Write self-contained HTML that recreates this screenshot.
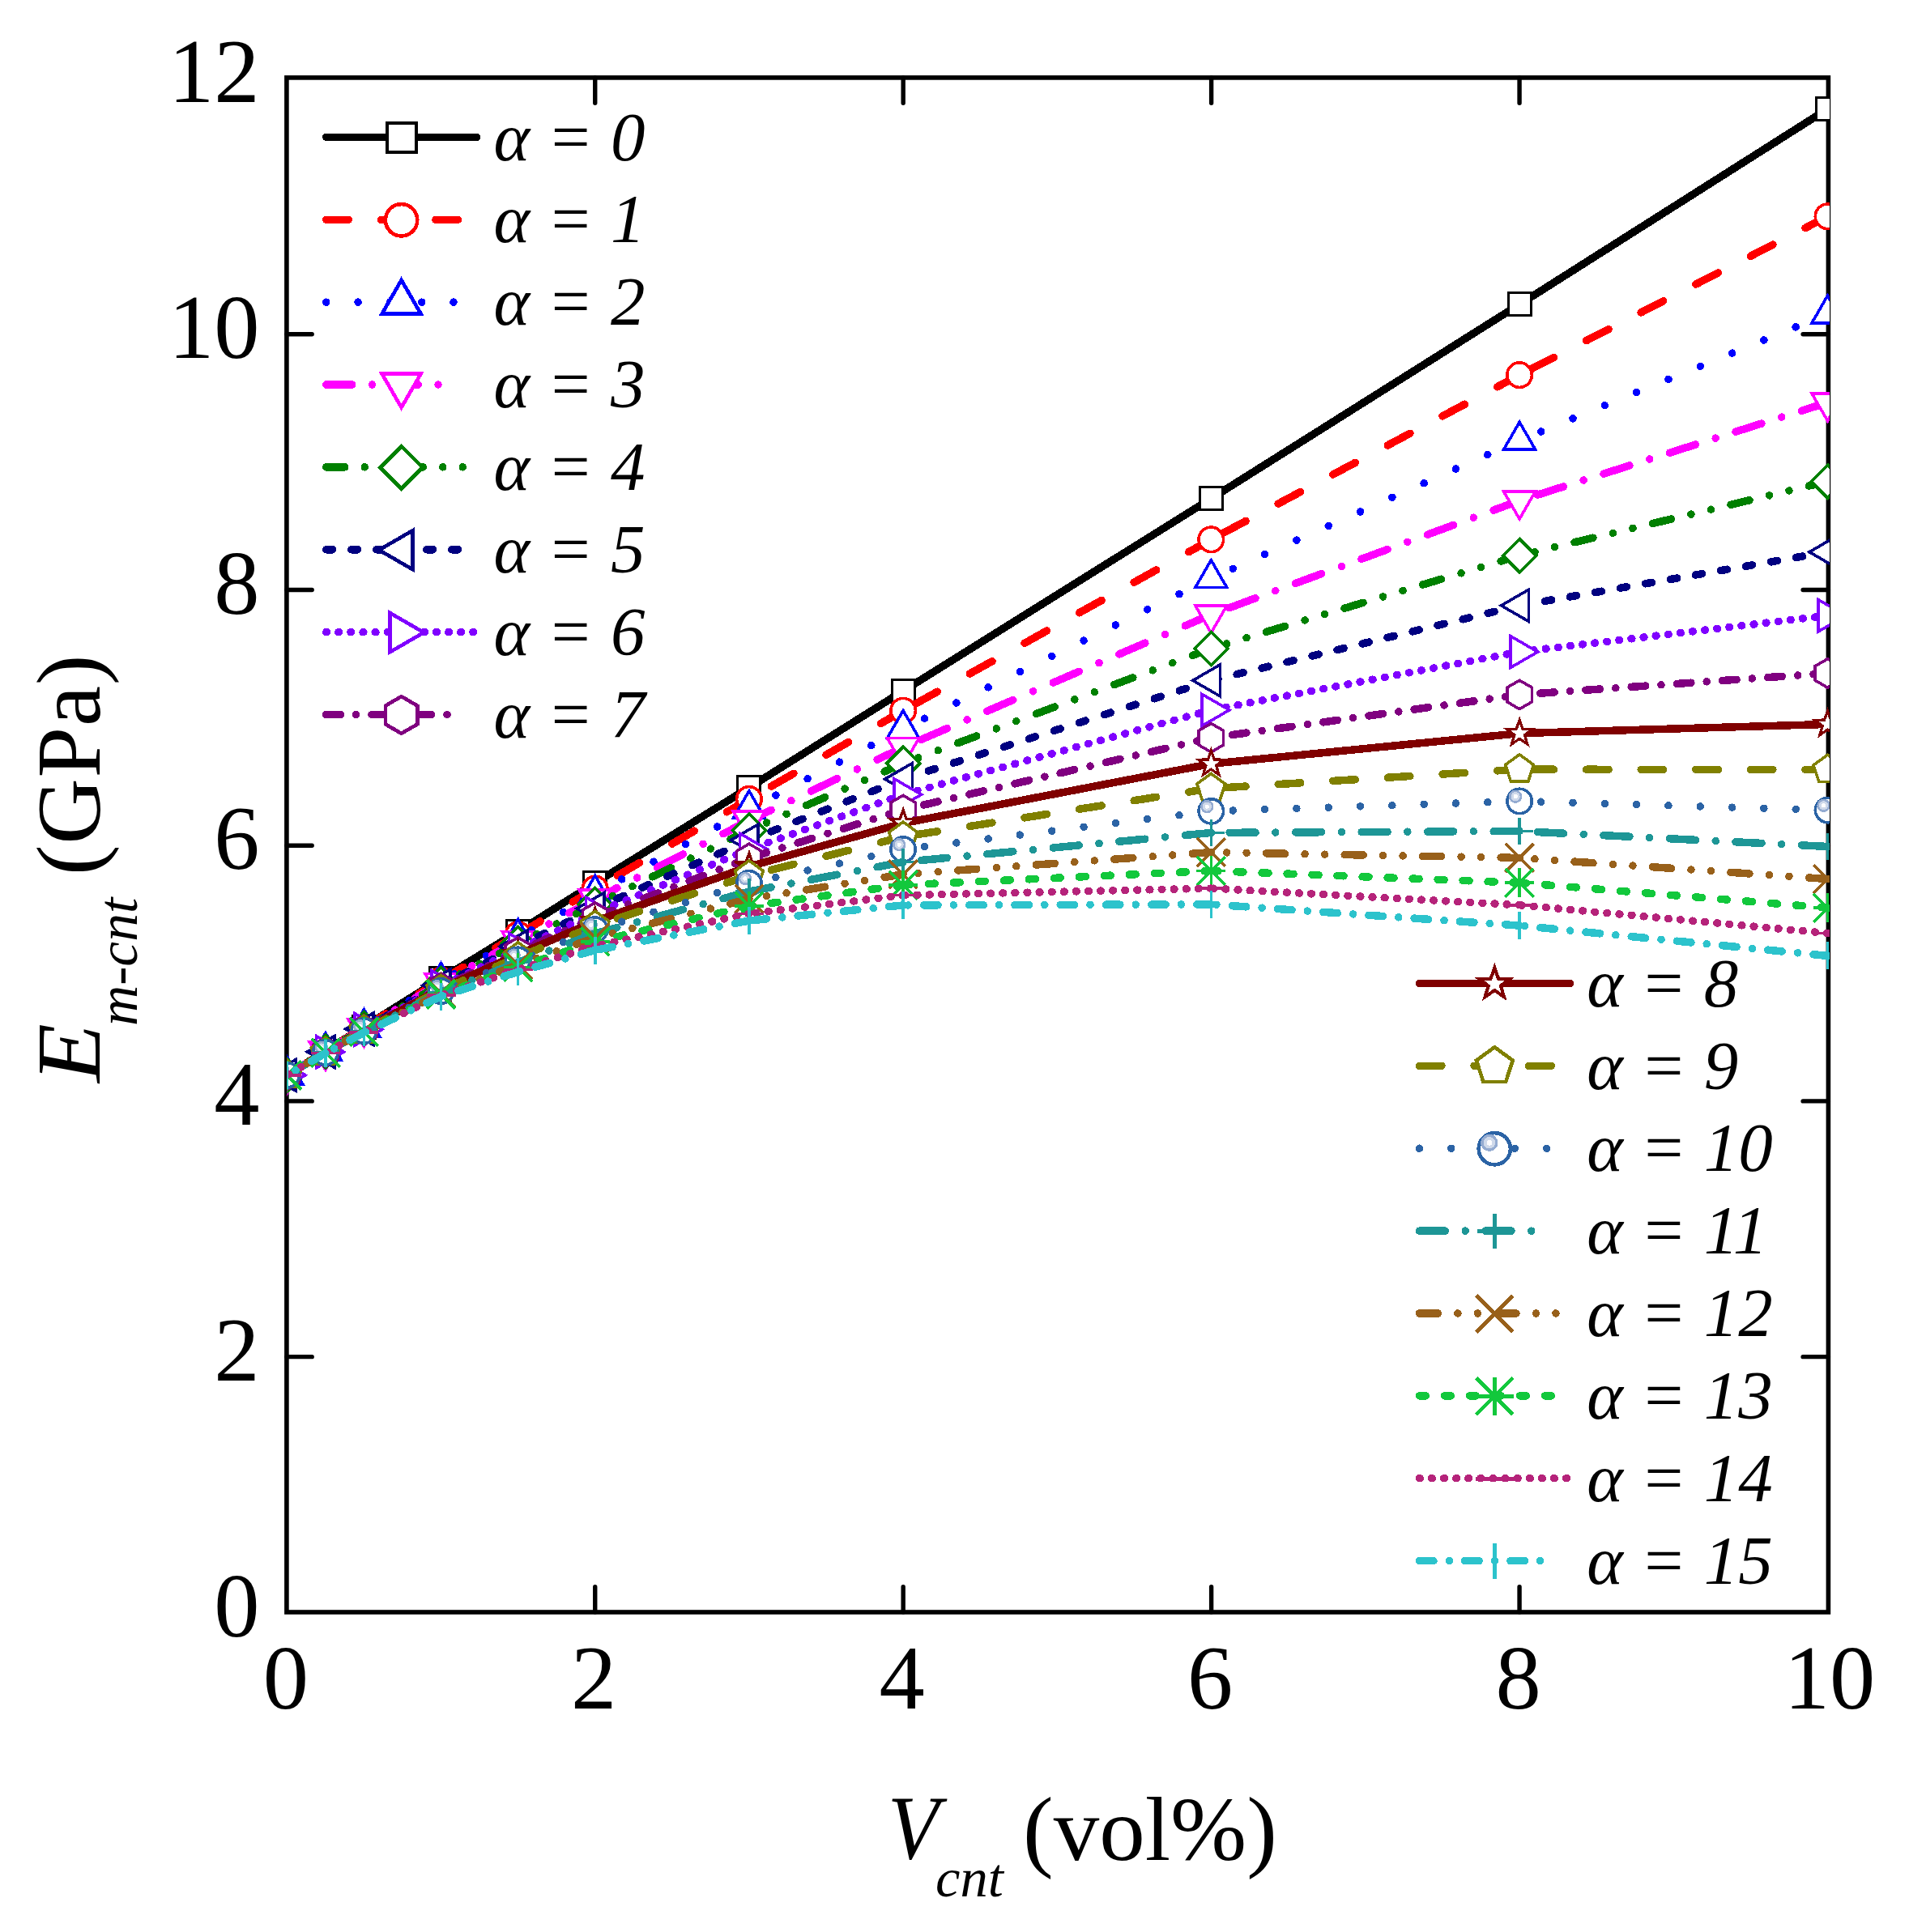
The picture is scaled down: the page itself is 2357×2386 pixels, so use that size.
<!DOCTYPE html>
<html lang="en"><head><meta charset="utf-8"><title>E m-cnt vs V cnt</title>
<style>
html,body{margin:0;padding:0;background:#fff}
svg{display:block}
text{font-family:"Liberation Serif",serif;fill:#000}
.tk{font-size:112.5px}
.lg{font-size:85px;font-style:italic}
.it{font-style:italic}
</style></head>
<body>
<svg width="2357" height="2386" viewBox="0 0 2357 2386">
<rect width="2357" height="2386" fill="#fff"/>
<defs><clipPath id="pc"><rect x="354.4" y="95.9" width="1904.6" height="1895.1"/></clipPath></defs>
<rect x="353.9" y="95.9" width="1903.5" height="1895.1" fill="none" stroke="#000" stroke-width="5.6"/>
<path d="M734.74 1991V1959.7 M734.74 95.9V127.2 M1115.18 1991V1959.7 M1115.18 95.9V127.2 M1495.62 1991V1959.7 M1495.62 95.9V127.2 M1876.06 1991V1959.7 M1876.06 95.9V127.2 M353.9 1675.66H385.2 M2257.4 1675.66H2226.1 M353.9 1359.92H385.2 M2257.4 1359.92H2226.1 M353.9 1044.18H385.2 M2257.4 1044.18H2226.1 M353.9 728.44H385.2 M2257.4 728.44H2226.1 M353.9 412.7H385.2 M2257.4 412.7H2226.1" fill="none" stroke="#000" stroke-width="5.4" stroke-linecap="round"/>
<text class="tk" x="320.5" y="2020.6" text-anchor="end">0</text>
<text class="tk" x="320.5" y="1704.86" text-anchor="end">2</text>
<text class="tk" x="320.5" y="1389.12" text-anchor="end">4</text>
<text class="tk" x="320.5" y="1073.38" text-anchor="end">6</text>
<text class="tk" x="320.5" y="757.64" text-anchor="end">8</text>
<text class="tk" x="320.5" y="441.9" text-anchor="end">10</text>
<text class="tk" x="320.5" y="126.16" text-anchor="end">12</text>
<text class="tk" x="352.8" y="2109.6" text-anchor="middle">0</text>
<text class="tk" x="733.24" y="2109.6" text-anchor="middle">2</text>
<text class="tk" x="1113.68" y="2109.6" text-anchor="middle">4</text>
<text class="tk" x="1494.12" y="2109.6" text-anchor="middle">6</text>
<text class="tk" x="1874.56" y="2109.6" text-anchor="middle">8</text>
<text class="tk" x="2259" y="2109.6" text-anchor="middle">10</text>
<text x="1096" y="2295" font-size="113" class="it" textLength="63.5" lengthAdjust="spacingAndGlyphs">V</text>
<text x="1155" y="2341.5" font-size="68.5" class="it">cnt</text>
<text x="1263" y="2296.5" font-size="113">(vol%)</text>
<g transform="translate(123 1337) rotate(-90)"><text x="0" y="0" font-size="113" class="it" textLength="73" lengthAdjust="spacingAndGlyphs">E</text><text x="70" y="46" font-size="69.5" class="it">m-cnt</text><text x="256" y="0" font-size="113" letter-spacing="0.6">(GPa)</text></g>
<g clip-path="url(#pc)" shape-rendering="crispEdges">
<path d="M354.3 1327.8 L401.9 1298 L449.4 1268.2 L544.5 1208.9 L639.6 1150.5 L734.7 1090.51 L924.9 972.71 L1115.1 853.33 L1495.3 615.76 L1876.1 375.92 L2256.5 134.6" fill="none" stroke="#000000" stroke-width="9.5" stroke-linejoin="round" stroke-linecap="round"/>
<g><rect x="340.3" y="1313.8" width="28" height="28" fill="#fff" stroke="#000000" stroke-width="3"/><rect x="387.9" y="1284" width="28" height="28" fill="#fff" stroke="#000000" stroke-width="3"/><rect x="435.4" y="1254.2" width="28" height="28" fill="#fff" stroke="#000000" stroke-width="3"/><rect x="530.5" y="1194.9" width="28" height="28" fill="#fff" stroke="#000000" stroke-width="3"/><rect x="625.6" y="1136.5" width="28" height="28" fill="#fff" stroke="#000000" stroke-width="3"/><rect x="720.7" y="1076.51" width="28" height="28" fill="#fff" stroke="#000000" stroke-width="3"/><rect x="910.9" y="958.71" width="28" height="28" fill="#fff" stroke="#000000" stroke-width="3"/><rect x="1101.1" y="839.33" width="28" height="28" fill="#fff" stroke="#000000" stroke-width="3"/><rect x="1481.3" y="601.76" width="28" height="28" fill="#fff" stroke="#000000" stroke-width="3"/><rect x="1862.1" y="361.92" width="28" height="28" fill="#fff" stroke="#000000" stroke-width="3"/><rect x="2242.5" y="120.6" width="28" height="28" fill="#fff" stroke="#000000" stroke-width="3"/></g>
<g fill="none" stroke="#ff0000" stroke-width="9.5" stroke-linecap="round"><path d="M2256.5 267.37L1876.1 463.14" stroke-dasharray="30.93 45.1"/><path d="M1876.1 463.14L1495.3 666.33" stroke-dasharray="31.17 45.45"/><path d="M1495.3 666.33L1115.1 877.67" stroke-dasharray="31.46 45.88"/><path d="M1115.1 877.67L924.9 986.82" stroke-dasharray="31.71 46.23"/><path d="M924.9 986.82L734.7 1097.47" stroke-dasharray="31.81 46.39"/><path d="M734.7 1097.47L639.6 1154.28" stroke-dasharray="32.03 46.71"/><path d="M639.6 1154.28L544.5 1210.54" stroke-dasharray="31.95 46.59"/><path d="M544.5 1210.54L449.4 1268.73" stroke-dasharray="32.24 47.01"/><path d="M449.4 1268.73L401.9 1298.2" stroke-dasharray="32.36 47.19"/><path d="M401.9 1298.2L354.3 1327.8" stroke-dasharray="32.38 47.22"/></g>
<g><circle cx="354.3" cy="1327.8" r="15.25" fill="#fff" stroke="#ff0000" stroke-width="3.6" stroke-linejoin="miter"/><circle cx="401.9" cy="1298.2" r="15.25" fill="#fff" stroke="#ff0000" stroke-width="3.6" stroke-linejoin="miter"/><circle cx="449.4" cy="1268.73" r="15.25" fill="#fff" stroke="#ff0000" stroke-width="3.6" stroke-linejoin="miter"/><circle cx="544.5" cy="1210.54" r="15.25" fill="#fff" stroke="#ff0000" stroke-width="3.6" stroke-linejoin="miter"/><circle cx="639.6" cy="1154.28" r="15.25" fill="#fff" stroke="#ff0000" stroke-width="3.6" stroke-linejoin="miter"/><circle cx="734.7" cy="1097.47" r="15.25" fill="#fff" stroke="#ff0000" stroke-width="3.6" stroke-linejoin="miter"/><circle cx="924.9" cy="986.82" r="15.25" fill="#fff" stroke="#ff0000" stroke-width="3.6" stroke-linejoin="miter"/><circle cx="1115.1" cy="877.67" r="15.25" fill="#fff" stroke="#ff0000" stroke-width="3.6" stroke-linejoin="miter"/><circle cx="1495.3" cy="666.33" r="15.25" fill="#fff" stroke="#ff0000" stroke-width="3.6" stroke-linejoin="miter"/><circle cx="1876.1" cy="463.14" r="15.25" fill="#fff" stroke="#ff0000" stroke-width="3.6" stroke-linejoin="miter"/><circle cx="2256.5" cy="267.37" r="15.25" fill="#fff" stroke="#ff0000" stroke-width="3.6" stroke-linejoin="miter"/></g>
<g fill="none" stroke="#0000ff" stroke-width="9.5" stroke-linecap="round"><path d="M2256.5 387.75L1876.1 543.93" stroke-dasharray="0.01 42.48"/><path d="M1876.1 543.93L1495.3 714.36" stroke-dasharray="0.01 43.06"/><path d="M1495.3 714.36L1115.1 900.11" stroke-dasharray="0.01 43.74"/><path d="M1115.1 900.11L924.9 999.36" stroke-dasharray="0.01 44.33"/><path d="M924.9 999.36L734.7 1103.98" stroke-dasharray="0.01 44.85"/><path d="M734.7 1103.98L639.6 1158" stroke-dasharray="0.01 45.2"/><path d="M639.6 1158L544.5 1212.15" stroke-dasharray="0.01 45.22"/><path d="M544.5 1212.15L449.4 1269.25" stroke-dasharray="0.01 45.84"/><path d="M449.4 1269.25L401.9 1298.39" stroke-dasharray="0.01 46.1"/><path d="M401.9 1298.39L354.3 1327.8" stroke-dasharray="0.01 46.2"/></g>
<g><path d="M354.3 1305.2 L373.87 1339.1 L334.73 1339.1Z" fill="#fff" stroke="#0000ff" stroke-width="3.6" stroke-linejoin="miter"/><path d="M401.9 1275.79 L421.47 1309.69 L382.33 1309.69Z" fill="#fff" stroke="#0000ff" stroke-width="3.6" stroke-linejoin="miter"/><path d="M449.4 1246.65 L468.97 1280.55 L429.83 1280.55Z" fill="#fff" stroke="#0000ff" stroke-width="3.6" stroke-linejoin="miter"/><path d="M544.5 1189.55 L564.07 1223.45 L524.93 1223.45Z" fill="#fff" stroke="#0000ff" stroke-width="3.6" stroke-linejoin="miter"/><path d="M639.6 1135.4 L659.17 1169.3 L620.03 1169.3Z" fill="#fff" stroke="#0000ff" stroke-width="3.6" stroke-linejoin="miter"/><path d="M734.7 1081.38 L754.27 1115.28 L715.13 1115.28Z" fill="#fff" stroke="#0000ff" stroke-width="3.6" stroke-linejoin="miter"/><path d="M924.9 976.76 L944.47 1010.66 L905.33 1010.66Z" fill="#fff" stroke="#0000ff" stroke-width="3.6" stroke-linejoin="miter"/><path d="M1115.1 877.51 L1134.67 911.41 L1095.53 911.41Z" fill="#fff" stroke="#0000ff" stroke-width="3.6" stroke-linejoin="miter"/><path d="M1495.3 691.76 L1514.87 725.66 L1475.73 725.66Z" fill="#fff" stroke="#0000ff" stroke-width="3.6" stroke-linejoin="miter"/><path d="M1876.1 521.33 L1895.67 555.23 L1856.53 555.23Z" fill="#fff" stroke="#0000ff" stroke-width="3.6" stroke-linejoin="miter"/><path d="M2256.5 365.15 L2276.07 399.05 L2236.93 399.05Z" fill="#fff" stroke="#0000ff" stroke-width="3.6" stroke-linejoin="miter"/></g>
<g fill="none" stroke="#ff00ff" stroke-width="9.5" stroke-linecap="round"><path d="M2256.5 497.07L1876.1 618.26" stroke-dasharray="33.58 25.98 0.01 25.98"/><path d="M1876.1 618.26L1495.3 759" stroke-dasharray="34.12 26.39 0.01 26.39"/><path d="M1495.3 759L1115.1 922.98" stroke-dasharray="34.85 26.95 0.01 26.95"/><path d="M1115.1 922.98L924.9 1013.39" stroke-dasharray="35.43 27.4 0.01 27.4"/><path d="M924.9 1013.39L734.7 1110.47" stroke-dasharray="35.93 27.79 0.01 27.79"/><path d="M734.7 1110.47L639.6 1161.66" stroke-dasharray="36.34 28.11 0.01 28.11"/><path d="M639.6 1161.66L544.5 1213.74" stroke-dasharray="36.48 28.22 0.01 28.22"/><path d="M544.5 1213.74L449.4 1269.77" stroke-dasharray="37.14 28.73 0.01 28.73"/><path d="M449.4 1269.77L401.9 1298.58" stroke-dasharray="37.43 28.95 0.01 28.95"/><path d="M401.9 1298.58L354.3 1327.8" stroke-dasharray="37.55 29.04 0.01 29.04"/></g>
<g><path d="M354.3 1350.4 L334.73 1316.5 L373.87 1316.5Z" fill="#fff" stroke="#ff00ff" stroke-width="3.6" stroke-linejoin="miter"/><path d="M401.9 1321.18 L382.33 1287.28 L421.47 1287.28Z" fill="#fff" stroke="#ff00ff" stroke-width="3.6" stroke-linejoin="miter"/><path d="M449.4 1292.37 L429.83 1258.47 L468.97 1258.47Z" fill="#fff" stroke="#ff00ff" stroke-width="3.6" stroke-linejoin="miter"/><path d="M544.5 1236.34 L524.93 1202.44 L564.07 1202.44Z" fill="#fff" stroke="#ff00ff" stroke-width="3.6" stroke-linejoin="miter"/><path d="M639.6 1184.26 L620.03 1150.36 L659.17 1150.36Z" fill="#fff" stroke="#ff00ff" stroke-width="3.6" stroke-linejoin="miter"/><path d="M734.7 1133.07 L715.13 1099.17 L754.27 1099.17Z" fill="#fff" stroke="#ff00ff" stroke-width="3.6" stroke-linejoin="miter"/><path d="M924.9 1035.99 L905.33 1002.09 L944.47 1002.09Z" fill="#fff" stroke="#ff00ff" stroke-width="3.6" stroke-linejoin="miter"/><path d="M1115.1 945.58 L1095.53 911.68 L1134.67 911.68Z" fill="#fff" stroke="#ff00ff" stroke-width="3.6" stroke-linejoin="miter"/><path d="M1495.3 781.6 L1475.73 747.7 L1514.87 747.7Z" fill="#fff" stroke="#ff00ff" stroke-width="3.6" stroke-linejoin="miter"/><path d="M1876.1 640.86 L1856.53 606.96 L1895.67 606.96Z" fill="#fff" stroke="#ff00ff" stroke-width="3.6" stroke-linejoin="miter"/><path d="M2256.5 519.67 L2236.93 485.77 L2276.07 485.77Z" fill="#fff" stroke="#ff00ff" stroke-width="3.6" stroke-linejoin="miter"/></g>
<g fill="none" stroke="#008000" stroke-width="9.5" stroke-linecap="round"><path d="M2256.5 594.55L1876.1 686.08" stroke-dasharray="23.66 25.2 0.01 25.2 0.01 25.2"/><path d="M1876.1 686.08L1495.3 800.9" stroke-dasharray="24.02 25.59 0.01 25.59 0.01 25.59"/><path d="M1495.3 800.9L1115.1 942.87" stroke-dasharray="24.55 26.15 0.01 26.15 0.01 26.15"/><path d="M1115.1 942.87L924.9 1025.36" stroke-dasharray="25.07 26.71 0.01 26.71 0.01 26.71"/><path d="M924.9 1025.36L734.7 1116.77" stroke-dasharray="25.52 27.18 0.01 27.18 0.01 27.18"/><path d="M734.7 1116.77L639.6 1165.24" stroke-dasharray="25.82 27.5 0.01 27.5 0.01 27.5"/><path d="M639.6 1165.24L544.5 1215.29" stroke-dasharray="25.99 27.69 0.01 27.69 0.01 27.69"/><path d="M544.5 1215.29L449.4 1270.27" stroke-dasharray="26.57 28.3 0.01 28.3 0.01 28.3"/><path d="M449.4 1270.27L401.9 1298.77" stroke-dasharray="26.82 28.57 0.01 28.57 0.01 28.57"/><path d="M401.9 1298.77L354.3 1327.8" stroke-dasharray="26.94 28.7 0.01 28.7 0.01 28.7"/></g>
<g><path d="M354.3 1307.3 L374.8 1327.8 L354.3 1348.3 L333.8 1327.8Z" fill="#fff" stroke="#008000" stroke-width="3.6" stroke-linejoin="miter"/><path d="M401.9 1278.27 L422.4 1298.77 L401.9 1319.27 L381.4 1298.77Z" fill="#fff" stroke="#008000" stroke-width="3.6" stroke-linejoin="miter"/><path d="M449.4 1249.77 L469.9 1270.27 L449.4 1290.77 L428.9 1270.27Z" fill="#fff" stroke="#008000" stroke-width="3.6" stroke-linejoin="miter"/><path d="M544.5 1194.79 L565 1215.29 L544.5 1235.79 L524 1215.29Z" fill="#fff" stroke="#008000" stroke-width="3.6" stroke-linejoin="miter"/><path d="M639.6 1144.74 L660.1 1165.24 L639.6 1185.74 L619.1 1165.24Z" fill="#fff" stroke="#008000" stroke-width="3.6" stroke-linejoin="miter"/><path d="M734.7 1096.27 L755.2 1116.77 L734.7 1137.27 L714.2 1116.77Z" fill="#fff" stroke="#008000" stroke-width="3.6" stroke-linejoin="miter"/><path d="M924.9 1004.86 L945.4 1025.36 L924.9 1045.86 L904.4 1025.36Z" fill="#fff" stroke="#008000" stroke-width="3.6" stroke-linejoin="miter"/><path d="M1115.1 922.37 L1135.6 942.87 L1115.1 963.37 L1094.6 942.87Z" fill="#fff" stroke="#008000" stroke-width="3.6" stroke-linejoin="miter"/><path d="M1495.3 780.4 L1515.8 800.9 L1495.3 821.4 L1474.8 800.9Z" fill="#fff" stroke="#008000" stroke-width="3.6" stroke-linejoin="miter"/><path d="M1876.1 665.58 L1896.6 686.08 L1876.1 706.58 L1855.6 686.08Z" fill="#fff" stroke="#008000" stroke-width="3.6" stroke-linejoin="miter"/><path d="M2256.5 574.05 L2277 594.55 L2256.5 615.05 L2236 594.55Z" fill="#fff" stroke="#008000" stroke-width="3.6" stroke-linejoin="miter"/></g>
<g fill="none" stroke="#000080" stroke-width="9.5" stroke-linecap="round"><path d="M2256.5 681.71L1876.1 747.82" stroke-dasharray="8.12 23.34"/><path d="M1876.1 747.82L1495.3 840.37" stroke-dasharray="8.23 23.67"/><path d="M1495.3 840.37L1115.1 962.15" stroke-dasharray="8.4 24.15"/><path d="M1115.1 962.15L924.9 1037.61" stroke-dasharray="8.61 24.74"/><path d="M924.9 1037.61L734.7 1122.03" stroke-dasharray="8.75 25.16"/><path d="M734.7 1122.03L639.6 1168.76" stroke-dasharray="8.91 25.63"/><path d="M639.6 1168.76L544.5 1216.82" stroke-dasharray="8.96 25.77"/><path d="M544.5 1216.82L449.4 1270.77" stroke-dasharray="9.2 26.44"/><path d="M449.4 1270.77L401.9 1298.95" stroke-dasharray="9.3 26.74"/><path d="M401.9 1298.95L354.3 1327.8" stroke-dasharray="9.35 26.89"/></g>
<g><path d="M331.7 1327.8 L365.6 1308.23 L365.6 1347.37Z" fill="#fff" stroke="#000080" stroke-width="3.6" stroke-linejoin="miter"/><path d="M379.3 1298.95 L413.2 1279.38 L413.2 1318.53Z" fill="#fff" stroke="#000080" stroke-width="3.6" stroke-linejoin="miter"/><path d="M426.8 1270.77 L460.7 1251.19 L460.7 1290.34Z" fill="#fff" stroke="#000080" stroke-width="3.6" stroke-linejoin="miter"/><path d="M521.9 1216.82 L555.8 1197.25 L555.8 1236.39Z" fill="#fff" stroke="#000080" stroke-width="3.6" stroke-linejoin="miter"/><path d="M617 1168.76 L650.9 1149.19 L650.9 1188.33Z" fill="#fff" stroke="#000080" stroke-width="3.6" stroke-linejoin="miter"/><path d="M712.1 1122.03 L746 1102.45 L746 1141.6Z" fill="#fff" stroke="#000080" stroke-width="3.6" stroke-linejoin="miter"/><path d="M902.3 1037.61 L936.2 1018.04 L936.2 1057.18Z" fill="#fff" stroke="#000080" stroke-width="3.6" stroke-linejoin="miter"/><path d="M1092.5 962.15 L1126.4 942.57 L1126.4 981.72Z" fill="#fff" stroke="#000080" stroke-width="3.6" stroke-linejoin="miter"/><path d="M1472.7 840.37 L1506.6 820.8 L1506.6 859.94Z" fill="#fff" stroke="#000080" stroke-width="3.6" stroke-linejoin="miter"/><path d="M1853.5 747.82 L1887.4 728.25 L1887.4 767.4Z" fill="#fff" stroke="#000080" stroke-width="3.6" stroke-linejoin="miter"/><path d="M2233.9 681.71 L2267.8 662.14 L2267.8 701.28Z" fill="#fff" stroke="#000080" stroke-width="3.6" stroke-linejoin="miter"/></g>
<g fill="none" stroke="#8000ff" stroke-width="9.5" stroke-linecap="round"><path d="M2256.5 760.25L1876.1 805.05" stroke-dasharray="0.81 14.4"/><path d="M1876.1 805.05L1495.3 876.87" stroke-dasharray="0.81 14.55"/><path d="M1495.3 876.87L1115.1 981.27" stroke-dasharray="0.83 14.83"/><path d="M1115.1 981.27L924.9 1048.99" stroke-dasharray="0.85 15.18"/><path d="M924.9 1048.99L734.7 1127.63" stroke-dasharray="0.87 15.47"/><path d="M734.7 1127.63L639.6 1172.21" stroke-dasharray="0.88 15.79"/><path d="M639.6 1172.21L544.5 1218.32" stroke-dasharray="0.89 15.89"/><path d="M544.5 1218.32L449.4 1271.25" stroke-dasharray="0.92 16.37"/><path d="M449.4 1271.25L401.9 1299.13" stroke-dasharray="0.93 16.58"/><path d="M401.9 1299.13L354.3 1327.8" stroke-dasharray="0.93 16.69"/></g>
<g><path d="M376.9 1327.8 L343 1347.37 L343 1308.23Z" fill="#fff" stroke="#8000ff" stroke-width="3.6" stroke-linejoin="miter"/><path d="M424.5 1299.13 L390.6 1318.71 L390.6 1279.56Z" fill="#fff" stroke="#8000ff" stroke-width="3.6" stroke-linejoin="miter"/><path d="M472 1271.25 L438.1 1290.82 L438.1 1251.68Z" fill="#fff" stroke="#8000ff" stroke-width="3.6" stroke-linejoin="miter"/><path d="M567.1 1218.32 L533.2 1237.89 L533.2 1198.75Z" fill="#fff" stroke="#8000ff" stroke-width="3.6" stroke-linejoin="miter"/><path d="M662.2 1172.21 L628.3 1191.78 L628.3 1152.64Z" fill="#fff" stroke="#8000ff" stroke-width="3.6" stroke-linejoin="miter"/><path d="M757.3 1127.63 L723.4 1147.2 L723.4 1108.06Z" fill="#fff" stroke="#8000ff" stroke-width="3.6" stroke-linejoin="miter"/><path d="M947.5 1048.99 L913.6 1068.57 L913.6 1029.42Z" fill="#fff" stroke="#8000ff" stroke-width="3.6" stroke-linejoin="miter"/><path d="M1137.7 981.27 L1103.8 1000.84 L1103.8 961.7Z" fill="#fff" stroke="#8000ff" stroke-width="3.6" stroke-linejoin="miter"/><path d="M1517.9 876.87 L1484 896.44 L1484 857.3Z" fill="#fff" stroke="#8000ff" stroke-width="3.6" stroke-linejoin="miter"/><path d="M1898.7 805.05 L1864.8 824.62 L1864.8 785.48Z" fill="#fff" stroke="#8000ff" stroke-width="3.6" stroke-linejoin="miter"/><path d="M2279.1 760.25 L2245.2 779.82 L2245.2 740.68Z" fill="#fff" stroke="#8000ff" stroke-width="3.6" stroke-linejoin="miter"/></g>
<g fill="none" stroke="#800080" stroke-width="9.5" stroke-linecap="round"><path d="M2256.5 831.46L1876.1 857.96" stroke-dasharray="17.54 19.4 0.01 19.4"/><path d="M1876.1 857.96L1495.3 911.2" stroke-dasharray="17.67 19.54 0.01 19.54"/><path d="M1495.3 911.2L1115.1 1000.01" stroke-dasharray="17.97 19.87 0.01 19.87"/><path d="M1115.1 1000.01L924.9 1059.89" stroke-dasharray="18.35 20.29 0.01 20.29"/><path d="M924.9 1059.89L734.7 1132.56" stroke-dasharray="18.73 20.71 0.01 20.71"/><path d="M734.7 1132.56L639.6 1175.6" stroke-dasharray="19.21 21.24 0.01 21.24"/><path d="M639.6 1175.6L544.5 1219.79" stroke-dasharray="19.3 21.34 0.01 21.34"/><path d="M544.5 1219.79L449.4 1271.73" stroke-dasharray="19.94 22.05 0.01 22.05"/><path d="M449.4 1271.73L401.9 1299.31" stroke-dasharray="20.24 22.38 0.01 22.38"/><path d="M401.9 1299.31L354.3 1327.8" stroke-dasharray="20.4 22.55 0.01 22.55"/></g>
<g><path d="M354.3 1310.1 L369.63 1318.95 L369.63 1336.65 L354.3 1345.5 L338.97 1336.65 L338.97 1318.95Z" fill="#fff" stroke="#800080" stroke-width="3.6" stroke-linejoin="miter"/><path d="M401.9 1281.61 L417.23 1290.46 L417.23 1308.16 L401.9 1317.01 L386.57 1308.16 L386.57 1290.46Z" fill="#fff" stroke="#800080" stroke-width="3.6" stroke-linejoin="miter"/><path d="M449.4 1254.03 L464.73 1262.88 L464.73 1280.58 L449.4 1289.43 L434.07 1280.58 L434.07 1262.88Z" fill="#fff" stroke="#800080" stroke-width="3.6" stroke-linejoin="miter"/><path d="M544.5 1202.09 L559.83 1210.94 L559.83 1228.64 L544.5 1237.49 L529.17 1228.64 L529.17 1210.94Z" fill="#fff" stroke="#800080" stroke-width="3.6" stroke-linejoin="miter"/><path d="M639.6 1157.9 L654.93 1166.75 L654.93 1184.45 L639.6 1193.3 L624.27 1184.45 L624.27 1166.75Z" fill="#fff" stroke="#800080" stroke-width="3.6" stroke-linejoin="miter"/><path d="M734.7 1114.86 L750.03 1123.71 L750.03 1141.41 L734.7 1150.26 L719.37 1141.41 L719.37 1123.71Z" fill="#fff" stroke="#800080" stroke-width="3.6" stroke-linejoin="miter"/><path d="M924.9 1042.19 L940.23 1051.04 L940.23 1068.74 L924.9 1077.59 L909.57 1068.74 L909.57 1051.04Z" fill="#fff" stroke="#800080" stroke-width="3.6" stroke-linejoin="miter"/><path d="M1115.1 982.31 L1130.43 991.16 L1130.43 1008.86 L1115.1 1017.71 L1099.77 1008.86 L1099.77 991.16Z" fill="#fff" stroke="#800080" stroke-width="3.6" stroke-linejoin="miter"/><path d="M1495.3 893.5 L1510.63 902.35 L1510.63 920.05 L1495.3 928.9 L1479.97 920.05 L1479.97 902.35Z" fill="#fff" stroke="#800080" stroke-width="3.6" stroke-linejoin="miter"/><path d="M1876.1 840.26 L1891.43 849.11 L1891.43 866.81 L1876.1 875.66 L1860.77 866.81 L1860.77 849.11Z" fill="#fff" stroke="#800080" stroke-width="3.6" stroke-linejoin="miter"/><path d="M2256.5 813.76 L2271.83 822.61 L2271.83 840.31 L2256.5 849.16 L2241.17 840.31 L2241.17 822.61Z" fill="#fff" stroke="#800080" stroke-width="3.6" stroke-linejoin="miter"/></g>
<path d="M354.3 1327.8 L401.9 1299.48 L449.4 1272.19 L544.5 1221.23 L639.6 1178.92 L734.7 1137.86 L924.9 1070.19 L1115.1 1016.65 L1495.3 943.32 L1876.1 905.65 L2256.5 894.41" fill="none" stroke="#800000" stroke-width="9.5" stroke-linejoin="round" stroke-linecap="round"/>
<g><path d="M354.3 1311.2 L358.2 1322.43 L370.09 1322.67 L360.62 1329.85 L364.06 1341.23 L354.3 1334.44 L344.54 1341.23 L347.98 1329.85 L338.51 1322.67 L350.4 1322.43Z" fill="#fff" stroke="#800000" stroke-width="3.2" stroke-linejoin="miter" stroke-miterlimit="6"/><path d="M401.9 1282.88 L405.8 1294.11 L417.69 1294.35 L408.22 1301.54 L411.66 1312.91 L401.9 1306.12 L392.14 1312.91 L395.58 1301.54 L386.11 1294.35 L398 1294.11Z" fill="#fff" stroke="#800000" stroke-width="3.2" stroke-linejoin="miter" stroke-miterlimit="6"/><path d="M449.4 1255.59 L453.3 1266.82 L465.19 1267.06 L455.72 1274.25 L459.16 1285.62 L449.4 1278.83 L439.64 1285.62 L443.08 1274.25 L433.61 1267.06 L445.5 1266.82Z" fill="#fff" stroke="#800000" stroke-width="3.2" stroke-linejoin="miter" stroke-miterlimit="6"/><path d="M544.5 1204.63 L548.4 1215.85 L560.29 1216.1 L550.82 1223.28 L554.26 1234.66 L544.5 1227.87 L534.74 1234.66 L538.18 1223.28 L528.71 1216.1 L540.6 1215.85Z" fill="#fff" stroke="#800000" stroke-width="3.2" stroke-linejoin="miter" stroke-miterlimit="6"/><path d="M639.6 1162.32 L643.5 1173.55 L655.39 1173.79 L645.92 1180.97 L649.36 1192.35 L639.6 1185.56 L629.84 1192.35 L633.28 1180.97 L623.81 1173.79 L635.7 1173.55Z" fill="#fff" stroke="#800000" stroke-width="3.2" stroke-linejoin="miter" stroke-miterlimit="6"/><path d="M734.7 1121.26 L738.6 1132.49 L750.49 1132.73 L741.02 1139.91 L744.46 1151.29 L734.7 1144.5 L724.94 1151.29 L728.38 1139.91 L718.91 1132.73 L730.8 1132.49Z" fill="#fff" stroke="#800000" stroke-width="3.2" stroke-linejoin="miter" stroke-miterlimit="6"/><path d="M924.9 1053.59 L928.8 1064.82 L940.69 1065.06 L931.22 1072.24 L934.66 1083.62 L924.9 1076.83 L915.14 1083.62 L918.58 1072.24 L909.11 1065.06 L921 1064.82Z" fill="#fff" stroke="#800000" stroke-width="3.2" stroke-linejoin="miter" stroke-miterlimit="6"/><path d="M1115.1 1000.05 L1119 1011.28 L1130.89 1011.52 L1121.42 1018.7 L1124.86 1030.08 L1115.1 1023.29 L1105.34 1030.08 L1108.78 1018.7 L1099.31 1011.52 L1111.2 1011.28Z" fill="#fff" stroke="#800000" stroke-width="3.2" stroke-linejoin="miter" stroke-miterlimit="6"/><path d="M1495.3 926.72 L1499.2 937.95 L1511.09 938.19 L1501.62 945.37 L1505.06 956.75 L1495.3 949.96 L1485.54 956.75 L1488.98 945.37 L1479.51 938.19 L1491.4 937.95Z" fill="#fff" stroke="#800000" stroke-width="3.2" stroke-linejoin="miter" stroke-miterlimit="6"/><path d="M1876.1 889.05 L1880 900.28 L1891.89 900.52 L1882.42 907.7 L1885.86 919.08 L1876.1 912.29 L1866.34 919.08 L1869.78 907.7 L1860.31 900.52 L1872.2 900.28Z" fill="#fff" stroke="#800000" stroke-width="3.2" stroke-linejoin="miter" stroke-miterlimit="6"/><path d="M2256.5 877.81 L2260.4 889.04 L2272.29 889.28 L2262.82 896.46 L2266.26 907.84 L2256.5 901.05 L2246.74 907.84 L2250.18 896.46 L2240.71 889.28 L2252.6 889.04Z" fill="#fff" stroke="#800000" stroke-width="3.2" stroke-linejoin="miter" stroke-miterlimit="6"/></g>
<g fill="none" stroke="#808000" stroke-width="9.5" stroke-linecap="round"><path d="M2256.5 950.56L1876.1 950.16" stroke-dasharray="27.5 40.1"/><path d="M1876.1 950.16L1495.3 973.72" stroke-dasharray="27.55 40.18"/><path d="M1495.3 973.72L1115.1 1033.35" stroke-dasharray="27.84 40.59"/><path d="M1115.1 1033.35L924.9 1081.2" stroke-dasharray="28.36 41.35"/><path d="M924.9 1081.2L734.7 1143.45" stroke-dasharray="28.94 42.19"/><path d="M734.7 1143.45L639.6 1182.17" stroke-dasharray="29.69 43.3"/><path d="M639.6 1182.17L544.5 1222.64" stroke-dasharray="29.89 43.58"/><path d="M544.5 1222.64L449.4 1272.65" stroke-dasharray="31.07 45.31"/><path d="M449.4 1272.65L401.9 1299.65" stroke-dasharray="31.63 46.13"/><path d="M401.9 1299.65L354.3 1327.8" stroke-dasharray="31.95 46.59"/></g>
<g><path d="M354.3 1309.5 L371.7 1322.14 L365.06 1342.61 L343.54 1342.61 L336.9 1322.14Z" fill="#fff" stroke="#808000" stroke-width="3.6" stroke-linejoin="miter"/><path d="M401.9 1281.35 L419.3 1294 L412.66 1314.46 L391.14 1314.46 L384.5 1294Z" fill="#fff" stroke="#808000" stroke-width="3.6" stroke-linejoin="miter"/><path d="M449.4 1254.35 L466.8 1267 L460.16 1287.46 L438.64 1287.46 L432 1267Z" fill="#fff" stroke="#808000" stroke-width="3.6" stroke-linejoin="miter"/><path d="M544.5 1204.34 L561.9 1216.98 L555.26 1237.44 L533.74 1237.44 L527.1 1216.98Z" fill="#fff" stroke="#808000" stroke-width="3.6" stroke-linejoin="miter"/><path d="M639.6 1163.87 L657 1176.52 L650.36 1196.98 L628.84 1196.98 L622.2 1176.52Z" fill="#fff" stroke="#808000" stroke-width="3.6" stroke-linejoin="miter"/><path d="M734.7 1125.15 L752.1 1137.8 L745.46 1158.26 L723.94 1158.26 L717.3 1137.8Z" fill="#fff" stroke="#808000" stroke-width="3.6" stroke-linejoin="miter"/><path d="M924.9 1062.9 L942.3 1075.54 L935.66 1096 L914.14 1096 L907.5 1075.54Z" fill="#fff" stroke="#808000" stroke-width="3.6" stroke-linejoin="miter"/><path d="M1115.1 1015.05 L1132.5 1027.7 L1125.86 1048.16 L1104.34 1048.16 L1097.7 1027.7Z" fill="#fff" stroke="#808000" stroke-width="3.6" stroke-linejoin="miter"/><path d="M1495.3 955.42 L1512.7 968.06 L1506.06 988.52 L1484.54 988.52 L1477.9 968.06Z" fill="#fff" stroke="#808000" stroke-width="3.6" stroke-linejoin="miter"/><path d="M1876.1 931.86 L1893.5 944.51 L1886.86 964.97 L1865.34 964.97 L1858.7 944.51Z" fill="#fff" stroke="#808000" stroke-width="3.6" stroke-linejoin="miter"/><path d="M2256.5 932.26 L2273.9 944.91 L2267.26 965.37 L2245.74 965.37 L2239.1 944.91Z" fill="#fff" stroke="#808000" stroke-width="3.6" stroke-linejoin="miter"/></g>
<g fill="none" stroke="#2b63a5" stroke-width="9.5" stroke-linecap="round"><path d="M2256.5 1000.55L1876.1 989.45" stroke-dasharray="0.01 39.32"/><path d="M1876.1 989.45L1495.3 1001.9" stroke-dasharray="0.01 39.32"/><path d="M1495.3 1001.9L1115.1 1048.98" stroke-dasharray="0.01 39.6"/><path d="M1115.1 1048.98L924.9 1090.77" stroke-dasharray="0.01 40.24"/><path d="M924.9 1090.77L734.7 1148.17" stroke-dasharray="0.01 41.05"/><path d="M734.7 1148.17L639.6 1185.36" stroke-dasharray="0.01 42.2"/><path d="M639.6 1185.36L544.5 1224.02" stroke-dasharray="0.01 42.42"/><path d="M544.5 1224.02L449.4 1273.1" stroke-dasharray="0.01 44.23"/><path d="M449.4 1273.1L401.9 1299.82" stroke-dasharray="0.01 45.09"/><path d="M401.9 1299.82L354.3 1327.8" stroke-dasharray="0.01 45.59"/></g>
<g><circle cx="354.3" cy="1327.8" r="15.2" fill="#fff" stroke="#2b63a5" stroke-width="3.6"/><circle cx="349.3" cy="1322" r="8.2" fill="#94abd1"/><circle cx="349.3" cy="1322" r="5.6" fill="#cfd9ea"/><circle cx="349.3" cy="1322" r="2.6" fill="#fdfdff"/><circle cx="401.9" cy="1299.82" r="15.2" fill="#fff" stroke="#2b63a5" stroke-width="3.6"/><circle cx="396.9" cy="1294.02" r="8.2" fill="#94abd1"/><circle cx="396.9" cy="1294.02" r="5.6" fill="#cfd9ea"/><circle cx="396.9" cy="1294.02" r="2.6" fill="#fdfdff"/><circle cx="449.4" cy="1273.1" r="15.2" fill="#fff" stroke="#2b63a5" stroke-width="3.6"/><circle cx="444.4" cy="1267.3" r="8.2" fill="#94abd1"/><circle cx="444.4" cy="1267.3" r="5.6" fill="#cfd9ea"/><circle cx="444.4" cy="1267.3" r="2.6" fill="#fdfdff"/><circle cx="544.5" cy="1224.02" r="15.2" fill="#fff" stroke="#2b63a5" stroke-width="3.6"/><circle cx="539.5" cy="1218.22" r="8.2" fill="#94abd1"/><circle cx="539.5" cy="1218.22" r="5.6" fill="#cfd9ea"/><circle cx="539.5" cy="1218.22" r="2.6" fill="#fdfdff"/><circle cx="639.6" cy="1185.36" r="15.2" fill="#fff" stroke="#2b63a5" stroke-width="3.6"/><circle cx="634.6" cy="1179.56" r="8.2" fill="#94abd1"/><circle cx="634.6" cy="1179.56" r="5.6" fill="#cfd9ea"/><circle cx="634.6" cy="1179.56" r="2.6" fill="#fdfdff"/><circle cx="734.7" cy="1148.17" r="15.2" fill="#fff" stroke="#2b63a5" stroke-width="3.6"/><circle cx="729.7" cy="1142.37" r="8.2" fill="#94abd1"/><circle cx="729.7" cy="1142.37" r="5.6" fill="#cfd9ea"/><circle cx="729.7" cy="1142.37" r="2.6" fill="#fdfdff"/><circle cx="924.9" cy="1090.77" r="15.2" fill="#fff" stroke="#2b63a5" stroke-width="3.6"/><circle cx="919.9" cy="1084.97" r="8.2" fill="#94abd1"/><circle cx="919.9" cy="1084.97" r="5.6" fill="#cfd9ea"/><circle cx="919.9" cy="1084.97" r="2.6" fill="#fdfdff"/><circle cx="1115.1" cy="1048.98" r="15.2" fill="#fff" stroke="#2b63a5" stroke-width="3.6"/><circle cx="1110.1" cy="1043.18" r="8.2" fill="#94abd1"/><circle cx="1110.1" cy="1043.18" r="5.6" fill="#cfd9ea"/><circle cx="1110.1" cy="1043.18" r="2.6" fill="#fdfdff"/><circle cx="1495.3" cy="1001.9" r="15.2" fill="#fff" stroke="#2b63a5" stroke-width="3.6"/><circle cx="1490.3" cy="996.1" r="8.2" fill="#94abd1"/><circle cx="1490.3" cy="996.1" r="5.6" fill="#cfd9ea"/><circle cx="1490.3" cy="996.1" r="2.6" fill="#fdfdff"/><circle cx="1876.1" cy="989.45" r="15.2" fill="#fff" stroke="#2b63a5" stroke-width="3.6"/><circle cx="1871.1" cy="983.65" r="8.2" fill="#94abd1"/><circle cx="1871.1" cy="983.65" r="5.6" fill="#cfd9ea"/><circle cx="1871.1" cy="983.65" r="2.6" fill="#fdfdff"/><circle cx="2256.5" cy="1000.55" r="15.2" fill="#fff" stroke="#2b63a5" stroke-width="3.6"/><circle cx="2251.5" cy="994.75" r="8.2" fill="#94abd1"/><circle cx="2251.5" cy="994.75" r="5.6" fill="#cfd9ea"/><circle cx="2251.5" cy="994.75" r="2.6" fill="#fdfdff"/></g>
<g fill="none" stroke="#1d9696" stroke-width="9.5" stroke-linecap="round"><path d="M2256.5 1045.47L1876.1 1026.46" stroke-dasharray="32.04 24.78 0.01 24.78"/><path d="M1876.1 1026.46L1495.3 1028.45" stroke-dasharray="32 24.75 0.01 24.75"/><path d="M1495.3 1028.45L1115.1 1064.59" stroke-dasharray="32.14 24.86 0.01 24.86"/><path d="M1115.1 1064.59L924.9 1101.03" stroke-dasharray="32.58 25.2 0.01 25.2"/><path d="M924.9 1101.03L734.7 1152.97" stroke-dasharray="33.17 25.66 0.01 25.66"/><path d="M734.7 1152.97L639.6 1188.48" stroke-dasharray="34.16 26.42 0.01 26.42"/><path d="M639.6 1188.48L544.5 1225.37" stroke-dasharray="34.32 26.55 0.01 26.55"/><path d="M544.5 1225.37L449.4 1273.54" stroke-dasharray="35.87 27.74 0.01 27.74"/><path d="M449.4 1273.54L401.9 1299.98" stroke-dasharray="36.62 28.33 0.01 28.33"/><path d="M401.9 1299.98L354.3 1327.8" stroke-dasharray="37.06 28.67 0.01 28.67"/></g>
<g><path d="M337.8 1327.8L370.8 1327.8 M354.3 1311.3L354.3 1344.3" fill="none" stroke="#1d9696" stroke-width="3.6" stroke-linecap="butt"/><path d="M385.4 1299.98L418.4 1299.98 M401.9 1283.48L401.9 1316.48" fill="none" stroke="#1d9696" stroke-width="3.6" stroke-linecap="butt"/><path d="M432.9 1273.54L465.9 1273.54 M449.4 1257.04L449.4 1290.04" fill="none" stroke="#1d9696" stroke-width="3.6" stroke-linecap="butt"/><path d="M528 1225.37L561 1225.37 M544.5 1208.87L544.5 1241.87" fill="none" stroke="#1d9696" stroke-width="3.6" stroke-linecap="butt"/><path d="M623.1 1188.48L656.1 1188.48 M639.6 1171.98L639.6 1204.98" fill="none" stroke="#1d9696" stroke-width="3.6" stroke-linecap="butt"/><path d="M718.2 1152.97L751.2 1152.97 M734.7 1136.47L734.7 1169.47" fill="none" stroke="#1d9696" stroke-width="3.6" stroke-linecap="butt"/><path d="M908.4 1101.03L941.4 1101.03 M924.9 1084.53L924.9 1117.53" fill="none" stroke="#1d9696" stroke-width="3.6" stroke-linecap="butt"/><path d="M1098.6 1064.59L1131.6 1064.59 M1115.1 1048.09L1115.1 1081.09" fill="none" stroke="#1d9696" stroke-width="3.6" stroke-linecap="butt"/><path d="M1478.8 1028.45L1511.8 1028.45 M1495.3 1011.95L1495.3 1044.95" fill="none" stroke="#1d9696" stroke-width="3.6" stroke-linecap="butt"/><path d="M1859.6 1026.46L1892.6 1026.46 M1876.1 1009.96L1876.1 1042.96" fill="none" stroke="#1d9696" stroke-width="3.6" stroke-linecap="butt"/><path d="M2240 1045.47L2273 1045.47 M2256.5 1028.97L2256.5 1061.97" fill="none" stroke="#1d9696" stroke-width="3.6" stroke-linecap="butt"/></g>
<g fill="none" stroke="#98601a" stroke-width="9.5" stroke-linecap="round"><path d="M2256.5 1085.57L1876.1 1059.46" stroke-dasharray="23.05 24.56 0.01 24.56 0.01 24.56"/><path d="M1876.1 1059.46L1495.3 1052.6" stroke-dasharray="23 24.5 0.01 24.5 0.01 24.5"/><path d="M1495.3 1052.6L1115.1 1079.73" stroke-dasharray="23.06 24.56 0.01 24.56 0.01 24.56"/><path d="M1115.1 1079.73L924.9 1110.21" stroke-dasharray="23.29 24.81 0.01 24.81 0.01 24.81"/><path d="M924.9 1110.21L734.7 1158.05" stroke-dasharray="23.72 25.26 0.01 25.26 0.01 25.26"/><path d="M734.7 1158.05L639.6 1191.54" stroke-dasharray="24.38 25.97 0.01 25.97 0.01 25.97"/><path d="M639.6 1191.54L544.5 1226.7" stroke-dasharray="24.52 26.12 0.01 26.12 0.01 26.12"/><path d="M544.5 1226.7L449.4 1273.97" stroke-dasharray="25.68 27.36 0.01 27.36 0.01 27.36"/><path d="M449.4 1273.97L401.9 1300.14" stroke-dasharray="26.26 27.97 0.01 27.97 0.01 27.97"/><path d="M401.9 1300.14L354.3 1327.8" stroke-dasharray="26.6 28.34 0.01 28.34 0.01 28.34"/></g>
<g><path d="M336.8 1310.3L371.8 1345.3 M336.8 1345.3L371.8 1310.3" fill="none" stroke="#98601a" stroke-width="3.6" stroke-linecap="butt"/><path d="M384.4 1282.64L419.4 1317.64 M384.4 1317.64L419.4 1282.64" fill="none" stroke="#98601a" stroke-width="3.6" stroke-linecap="butt"/><path d="M431.9 1256.47L466.9 1291.47 M431.9 1291.47L466.9 1256.47" fill="none" stroke="#98601a" stroke-width="3.6" stroke-linecap="butt"/><path d="M527 1209.2L562 1244.2 M527 1244.2L562 1209.2" fill="none" stroke="#98601a" stroke-width="3.6" stroke-linecap="butt"/><path d="M622.1 1174.04L657.1 1209.04 M622.1 1209.04L657.1 1174.04" fill="none" stroke="#98601a" stroke-width="3.6" stroke-linecap="butt"/><path d="M717.2 1140.55L752.2 1175.55 M717.2 1175.55L752.2 1140.55" fill="none" stroke="#98601a" stroke-width="3.6" stroke-linecap="butt"/><path d="M907.4 1092.71L942.4 1127.71 M907.4 1127.71L942.4 1092.71" fill="none" stroke="#98601a" stroke-width="3.6" stroke-linecap="butt"/><path d="M1097.6 1062.23L1132.6 1097.23 M1097.6 1097.23L1132.6 1062.23" fill="none" stroke="#98601a" stroke-width="3.6" stroke-linecap="butt"/><path d="M1477.8 1035.1L1512.8 1070.1 M1477.8 1070.1L1512.8 1035.1" fill="none" stroke="#98601a" stroke-width="3.6" stroke-linecap="butt"/><path d="M1858.6 1041.96L1893.6 1076.96 M1858.6 1076.96L1893.6 1041.96" fill="none" stroke="#98601a" stroke-width="3.6" stroke-linecap="butt"/><path d="M2239 1068.07L2274 1103.07 M2239 1103.07L2274 1068.07" fill="none" stroke="#98601a" stroke-width="3.6" stroke-linecap="butt"/></g>
<g fill="none" stroke="#12c83c" stroke-width="9.5" stroke-linecap="round"><path d="M2256.5 1121.15L1876.1 1090.2" stroke-dasharray="8.03 23.08"/><path d="M1876.1 1090.2L1495.3 1075.47" stroke-dasharray="8.01 23.02"/><path d="M1495.3 1075.47L1115.1 1092.97" stroke-dasharray="8.01 23.02"/><path d="M1115.1 1092.97L924.9 1119.2" stroke-dasharray="8.08 23.22"/><path d="M924.9 1119.2L734.7 1163.08" stroke-dasharray="8.21 23.6"/><path d="M734.7 1163.08L639.6 1194.52" stroke-dasharray="8.43 24.22"/><path d="M639.6 1194.52L544.5 1227.99" stroke-dasharray="8.48 24.38"/><path d="M544.5 1227.99L449.4 1274.39" stroke-dasharray="8.9 25.59"/><path d="M449.4 1274.39L401.9 1300.3" stroke-dasharray="9.11 26.2"/><path d="M401.9 1300.3L354.3 1327.8" stroke-dasharray="9.24 26.56"/></g>
<g><path d="M336.3 1327.8L372.3 1327.8 M354.3 1309.8L354.3 1345.8 M336.8 1310.3L371.8 1345.3 M336.8 1345.3L371.8 1310.3" fill="none" stroke="#12c83c" stroke-width="3.6" stroke-linecap="butt"/><path d="M383.9 1300.3L419.9 1300.3 M401.9 1282.3L401.9 1318.3 M384.4 1282.8L419.4 1317.8 M384.4 1317.8L419.4 1282.8" fill="none" stroke="#12c83c" stroke-width="3.6" stroke-linecap="butt"/><path d="M431.4 1274.39L467.4 1274.39 M449.4 1256.39L449.4 1292.39 M431.9 1256.89L466.9 1291.89 M431.9 1291.89L466.9 1256.89" fill="none" stroke="#12c83c" stroke-width="3.6" stroke-linecap="butt"/><path d="M526.5 1227.99L562.5 1227.99 M544.5 1209.99L544.5 1245.99 M527 1210.49L562 1245.49 M527 1245.49L562 1210.49" fill="none" stroke="#12c83c" stroke-width="3.6" stroke-linecap="butt"/><path d="M621.6 1194.52L657.6 1194.52 M639.6 1176.52L639.6 1212.52 M622.1 1177.02L657.1 1212.02 M622.1 1212.02L657.1 1177.02" fill="none" stroke="#12c83c" stroke-width="3.6" stroke-linecap="butt"/><path d="M716.7 1163.08L752.7 1163.08 M734.7 1145.08L734.7 1181.08 M717.2 1145.58L752.2 1180.58 M717.2 1180.58L752.2 1145.58" fill="none" stroke="#12c83c" stroke-width="3.6" stroke-linecap="butt"/><path d="M906.9 1119.2L942.9 1119.2 M924.9 1101.2L924.9 1137.2 M907.4 1101.7L942.4 1136.7 M907.4 1136.7L942.4 1101.7" fill="none" stroke="#12c83c" stroke-width="3.6" stroke-linecap="butt"/><path d="M1097.1 1092.97L1133.1 1092.97 M1115.1 1074.97L1115.1 1110.97 M1097.6 1075.47L1132.6 1110.47 M1097.6 1110.47L1132.6 1075.47" fill="none" stroke="#12c83c" stroke-width="3.6" stroke-linecap="butt"/><path d="M1477.3 1075.47L1513.3 1075.47 M1495.3 1057.47L1495.3 1093.47 M1477.8 1057.97L1512.8 1092.97 M1477.8 1092.97L1512.8 1057.97" fill="none" stroke="#12c83c" stroke-width="3.6" stroke-linecap="butt"/><path d="M1858.1 1090.2L1894.1 1090.2 M1876.1 1072.2L1876.1 1108.2 M1858.6 1072.7L1893.6 1107.7 M1858.6 1107.7L1893.6 1072.7" fill="none" stroke="#12c83c" stroke-width="3.6" stroke-linecap="butt"/><path d="M2238.5 1121.15L2274.5 1121.15 M2256.5 1103.15L2256.5 1139.15 M2239 1103.65L2274 1138.65 M2239 1138.65L2274 1103.65" fill="none" stroke="#12c83c" stroke-width="3.6" stroke-linecap="butt"/></g>
<g fill="none" stroke="#b5237a" stroke-width="9.5" stroke-linecap="round"><path d="M2256.5 1152.47L1876.1 1117.75" stroke-dasharray="0.8 14.36"/><path d="M1876.1 1117.75L1495.3 1097.08" stroke-dasharray="0.8 14.32"/><path d="M1495.3 1097.08L1115.1 1105.68" stroke-dasharray="0.8 14.3"/><path d="M1115.1 1105.68L924.9 1128.33" stroke-dasharray="0.81 14.4"/><path d="M924.9 1128.33L734.7 1168.37" stroke-dasharray="0.82 14.61"/><path d="M734.7 1168.37L639.6 1197.44" stroke-dasharray="0.84 14.95"/><path d="M639.6 1197.44L544.5 1229.26" stroke-dasharray="0.84 15.08"/><path d="M544.5 1229.26L449.4 1274.8" stroke-dasharray="0.89 15.85"/><path d="M449.4 1274.8L401.9 1300.45" stroke-dasharray="0.91 16.25"/><path d="M401.9 1300.45L354.3 1327.8" stroke-dasharray="0.92 16.49"/></g>
<g><path d="M336.3 1327.8L372.3 1327.8" fill="none" stroke="#b5237a" stroke-width="3.6" stroke-linecap="butt"/><path d="M383.9 1300.45L419.9 1300.45" fill="none" stroke="#b5237a" stroke-width="3.6" stroke-linecap="butt"/><path d="M431.4 1274.8L467.4 1274.8" fill="none" stroke="#b5237a" stroke-width="3.6" stroke-linecap="butt"/><path d="M526.5 1229.26L562.5 1229.26" fill="none" stroke="#b5237a" stroke-width="3.6" stroke-linecap="butt"/><path d="M621.6 1197.44L657.6 1197.44" fill="none" stroke="#b5237a" stroke-width="3.6" stroke-linecap="butt"/><path d="M716.7 1168.37L752.7 1168.37" fill="none" stroke="#b5237a" stroke-width="3.6" stroke-linecap="butt"/><path d="M906.9 1128.33L942.9 1128.33" fill="none" stroke="#b5237a" stroke-width="3.6" stroke-linecap="butt"/><path d="M1097.1 1105.68L1133.1 1105.68" fill="none" stroke="#b5237a" stroke-width="3.6" stroke-linecap="butt"/><path d="M1477.3 1097.08L1513.3 1097.08" fill="none" stroke="#b5237a" stroke-width="3.6" stroke-linecap="butt"/><path d="M1858.1 1117.75L1894.1 1117.75" fill="none" stroke="#b5237a" stroke-width="3.6" stroke-linecap="butt"/><path d="M2238.5 1152.47L2274.5 1152.47" fill="none" stroke="#b5237a" stroke-width="3.6" stroke-linecap="butt"/></g>
<g fill="none" stroke="#2cc3cc" stroke-width="9.5" stroke-linecap="round"><path d="M2256.5 1180.45L1876.1 1143.08" stroke-dasharray="17.58 19.44 0.01 19.44"/><path d="M1876.1 1143.08L1495.3 1116.88" stroke-dasharray="17.54 19.4 0.01 19.4"/><path d="M1495.3 1116.88L1115.1 1117.96" stroke-dasharray="17.5 19.35 0.01 19.35"/><path d="M1115.1 1117.96L924.9 1137.03" stroke-dasharray="17.59 19.45 0.01 19.45"/><path d="M924.9 1137.03L734.7 1173.54" stroke-dasharray="17.82 19.7 0.01 19.7"/><path d="M734.7 1173.54L639.6 1200.3" stroke-dasharray="18.18 20.1 0.01 20.1"/><path d="M639.6 1200.3L544.5 1230.5" stroke-dasharray="18.36 20.3 0.01 20.3"/><path d="M544.5 1230.5L449.4 1275.2" stroke-dasharray="19.34 21.38 0.01 21.38"/><path d="M449.4 1275.2L401.9 1300.6" stroke-dasharray="19.84 21.94 0.01 21.94"/><path d="M401.9 1300.6L354.3 1327.8" stroke-dasharray="20.16 22.29 0.01 22.29"/></g>
<g><path d="M354.3 1310.8L354.3 1344.8" fill="none" stroke="#2cc3cc" stroke-width="3.6" stroke-linecap="butt"/><path d="M401.9 1283.6L401.9 1317.6" fill="none" stroke="#2cc3cc" stroke-width="3.6" stroke-linecap="butt"/><path d="M449.4 1258.2L449.4 1292.2" fill="none" stroke="#2cc3cc" stroke-width="3.6" stroke-linecap="butt"/><path d="M544.5 1213.5L544.5 1247.5" fill="none" stroke="#2cc3cc" stroke-width="3.6" stroke-linecap="butt"/><path d="M639.6 1183.3L639.6 1217.3" fill="none" stroke="#2cc3cc" stroke-width="3.6" stroke-linecap="butt"/><path d="M734.7 1156.54L734.7 1190.54" fill="none" stroke="#2cc3cc" stroke-width="3.6" stroke-linecap="butt"/><path d="M924.9 1120.03L924.9 1154.03" fill="none" stroke="#2cc3cc" stroke-width="3.6" stroke-linecap="butt"/><path d="M1115.1 1100.96L1115.1 1134.96" fill="none" stroke="#2cc3cc" stroke-width="3.6" stroke-linecap="butt"/><path d="M1495.3 1099.88L1495.3 1133.88" fill="none" stroke="#2cc3cc" stroke-width="3.6" stroke-linecap="butt"/><path d="M1876.1 1126.08L1876.1 1160.08" fill="none" stroke="#2cc3cc" stroke-width="3.6" stroke-linecap="butt"/><path d="M2256.5 1163.45L2256.5 1197.45" fill="none" stroke="#2cc3cc" stroke-width="3.6" stroke-linecap="butt"/></g>
</g>
<g shape-rendering="crispEdges">
<path d="M402.75 169.4L588.55 169.4" fill="none" stroke="#000000" stroke-width="9.5" stroke-linecap="round"/><rect x="477.6" y="151.9" width="36" height="36" fill="#fff" stroke="#000000" stroke-width="4"/><path d="M402.75 271.27L430.25 271.27 M470.35 271.27L497.85 271.27 M537.95 271.27L565.45 271.27" fill="none" stroke="#ff0000" stroke-width="9.5" stroke-linecap="round"/><circle cx="495.6" cy="271.77" r="19.67" fill="#fff" stroke="#ff0000" stroke-width="4.6" stroke-linejoin="miter"/><path d="M402.75 373.14L402.76 373.14 M442.06 373.14L442.07 373.14 M481.37 373.14L481.38 373.14 M520.68 373.14L520.69 373.14 M559.99 373.14L560 373.14" fill="none" stroke="#0000ff" stroke-width="9.5" stroke-linecap="round"/><path d="M495.6 345.94 L519.59 387.49 L471.61 387.49Z" fill="#fff" stroke="#0000ff" stroke-width="4.6" stroke-linejoin="miter"/><path d="M402.75 475.01L434.75 475.01 M459.5 475.01L459.51 475.01 M484.26 475.01L516.26 475.01 M541.01 475.01L541.02 475.01" fill="none" stroke="#ff00ff" stroke-width="9.5" stroke-linecap="round"/><path d="M495.6 503.21 L471.61 461.66 L519.59 461.66Z" fill="#fff" stroke="#ff00ff" stroke-width="4.6" stroke-linejoin="miter"/><path d="M402.75 576.88L425.75 576.88 M450.25 576.88L450.26 576.88 M474.76 576.88L474.77 576.88 M499.27 576.88L522.27 576.88 M546.77 576.88L546.78 576.88 M571.28 576.88L571.29 576.88" fill="none" stroke="#008000" stroke-width="9.5" stroke-linecap="round"/><path d="M495.6 551.18 L521.8 577.38 L495.6 603.58 L469.4 577.38Z" fill="#fff" stroke="#008000" stroke-width="4.6" stroke-linejoin="miter"/><path d="M402.75 678.75L410.75 678.75 M433.75 678.75L441.75 678.75 M464.75 678.75L472.75 678.75 M495.75 678.75L503.75 678.75 M526.75 678.75L534.75 678.75 M557.75 678.75L565.75 678.75" fill="none" stroke="#000080" stroke-width="9.5" stroke-linecap="round"/><path d="M467.9 679.25 L509.45 655.26 L509.45 703.24Z" fill="#fff" stroke="#000080" stroke-width="4.6" stroke-linejoin="miter"/><path d="M402.75 780.62L403.55 780.62 M417.85 780.62L418.65 780.62 M432.95 780.62L433.75 780.62 M448.05 780.62L448.85 780.62 M463.15 780.62L463.95 780.62 M478.25 780.62L479.05 780.62 M493.35 780.62L494.15 780.62 M508.45 780.62L509.25 780.62 M523.55 780.62L524.35 780.62 M538.65 780.62L539.45 780.62 M553.75 780.62L554.55 780.62 M568.85 780.62L569.65 780.62 M583.95 780.62L584.75 780.62" fill="none" stroke="#8000ff" stroke-width="9.5" stroke-linecap="round"/><path d="M523.3 781.12 L481.75 805.11 L481.75 757.13Z" fill="#fff" stroke="#8000ff" stroke-width="4.6" stroke-linejoin="miter"/><path d="M402.75 882.49L420.25 882.49 M439.6 882.49L439.61 882.49 M458.96 882.49L476.46 882.49 M495.81 882.49L495.82 882.49 M515.17 882.49L532.67 882.49 M552.02 882.49L552.03 882.49" fill="none" stroke="#800080" stroke-width="9.5" stroke-linecap="round"/><path d="M495.6 860.16 L515.37 871.57 L515.37 894.41 L495.6 905.82 L475.83 894.41 L475.83 871.57Z" fill="#fff" stroke="#800080" stroke-width="4.6" stroke-linejoin="miter"/><path d="M1752.45 1214.5L1938.25 1214.5" fill="none" stroke="#800000" stroke-width="9.5" stroke-linecap="round"/><path d="M1845.3 1195 L1850 1208.53 L1864.32 1208.82 L1852.91 1217.47 L1857.06 1231.18 L1845.3 1223 L1833.54 1231.18 L1837.69 1217.47 L1826.28 1208.82 L1840.6 1208.53Z" fill="#fff" stroke="#800000" stroke-width="4.1" stroke-linejoin="miter" stroke-miterlimit="6"/><path d="M1752.45 1316.37L1779.95 1316.37 M1820.05 1316.37L1847.55 1316.37 M1887.65 1316.37L1915.15 1316.37" fill="none" stroke="#808000" stroke-width="9.5" stroke-linecap="round"/><path d="M1845.3 1293.26 L1867.75 1309.58 L1859.18 1335.97 L1831.42 1335.97 L1822.85 1309.58Z" fill="#fff" stroke="#808000" stroke-width="4.6" stroke-linejoin="miter"/><path d="M1752.45 1418.24L1752.46 1418.24 M1791.76 1418.24L1791.77 1418.24 M1831.07 1418.24L1831.08 1418.24 M1870.38 1418.24L1870.39 1418.24 M1909.69 1418.24L1909.7 1418.24" fill="none" stroke="#2b63a5" stroke-width="9.5" stroke-linecap="round"/><circle cx="1845.3" cy="1418.74" r="19.61" fill="#fff" stroke="#2b63a5" stroke-width="4.6"/><circle cx="1838.85" cy="1411.26" r="10.58" fill="#94abd1"/><circle cx="1838.85" cy="1411.26" r="7.22" fill="#cfd9ea"/><circle cx="1838.85" cy="1411.26" r="3.35" fill="#fdfdff"/><path d="M1752.45 1520.11L1784.45 1520.11 M1809.2 1520.11L1809.21 1520.11 M1833.96 1520.11L1865.96 1520.11 M1890.71 1520.11L1890.72 1520.11" fill="none" stroke="#1d9696" stroke-width="9.5" stroke-linecap="round"/><path d="M1824.01 1520.61L1866.59 1520.61 M1845.3 1499.33L1845.3 1541.9" fill="none" stroke="#1d9696" stroke-width="4.6" stroke-linecap="butt"/><path d="M1752.45 1621.98L1775.45 1621.98 M1799.95 1621.98L1799.96 1621.98 M1824.46 1621.98L1824.47 1621.98 M1848.97 1621.98L1871.97 1621.98 M1896.47 1621.98L1896.48 1621.98 M1920.98 1621.98L1920.99 1621.98" fill="none" stroke="#98601a" stroke-width="9.5" stroke-linecap="round"/><path d="M1822.72 1599.9L1867.88 1645.06 M1822.72 1645.06L1867.88 1599.9" fill="none" stroke="#98601a" stroke-width="4.6" stroke-linecap="butt"/><path d="M1752.45 1723.85L1760.45 1723.85 M1783.45 1723.85L1791.45 1723.85 M1814.45 1723.85L1822.45 1723.85 M1845.45 1723.85L1853.45 1723.85 M1876.45 1723.85L1884.45 1723.85 M1907.45 1723.85L1915.45 1723.85" fill="none" stroke="#12c83c" stroke-width="9.5" stroke-linecap="round"/><path d="M1822.08 1724.35L1868.52 1724.35 M1845.3 1701.13L1845.3 1747.57 M1822.72 1701.77L1867.88 1746.92 M1822.72 1746.92L1867.88 1701.77" fill="none" stroke="#12c83c" stroke-width="4.6" stroke-linecap="butt"/><path d="M1752.45 1825.72L1753.25 1825.72 M1767.55 1825.72L1768.35 1825.72 M1782.65 1825.72L1783.45 1825.72 M1797.75 1825.72L1798.55 1825.72 M1812.85 1825.72L1813.65 1825.72 M1827.95 1825.72L1828.75 1825.72 M1843.05 1825.72L1843.85 1825.72 M1858.15 1825.72L1858.95 1825.72 M1873.25 1825.72L1874.05 1825.72 M1888.35 1825.72L1889.15 1825.72 M1903.45 1825.72L1904.25 1825.72 M1918.55 1825.72L1919.35 1825.72 M1933.65 1825.72L1934.45 1825.72" fill="none" stroke="#b5237a" stroke-width="9.5" stroke-linecap="round"/><path d="M1822.08 1826.22L1868.52 1826.22" fill="none" stroke="#b5237a" stroke-width="4.6" stroke-linecap="butt"/><path d="M1752.45 1927.59L1769.95 1927.59 M1789.3 1927.59L1789.31 1927.59 M1808.66 1927.59L1826.16 1927.59 M1845.51 1927.59L1845.52 1927.59 M1864.87 1927.59L1882.37 1927.59 M1901.72 1927.59L1901.73 1927.59" fill="none" stroke="#2cc3cc" stroke-width="9.5" stroke-linecap="round"/><path d="M1845.3 1906.16L1845.3 1950.02" fill="none" stroke="#2cc3cc" stroke-width="4.6" stroke-linecap="butt"/></g>
<text class="lg" x="609.5" y="197.6">α = 0</text>
<text class="lg" x="609.5" y="299.47">α = 1</text>
<text class="lg" x="609.5" y="401.34">α = 2</text>
<text class="lg" x="609.5" y="503.21">α = 3</text>
<text class="lg" x="609.5" y="605.08">α = 4</text>
<text class="lg" x="609.5" y="706.95">α = 5</text>
<text class="lg" x="609.5" y="808.82">α = 6</text>
<text class="lg" x="609.5" y="910.69">α = 7</text>
<text class="lg" x="1959.2" y="1242.7">α = 8</text>
<text class="lg" x="1959.2" y="1344.57">α = 9</text>
<text class="lg" x="1959.2" y="1446.44">α = 10</text>
<text class="lg" x="1959.2" y="1548.31">α = 11</text>
<text class="lg" x="1959.2" y="1650.18">α = 12</text>
<text class="lg" x="1959.2" y="1752.05">α = 13</text>
<text class="lg" x="1959.2" y="1853.92">α = 14</text>
<text class="lg" x="1959.2" y="1955.79">α = 15</text>
</svg>
</body></html>
